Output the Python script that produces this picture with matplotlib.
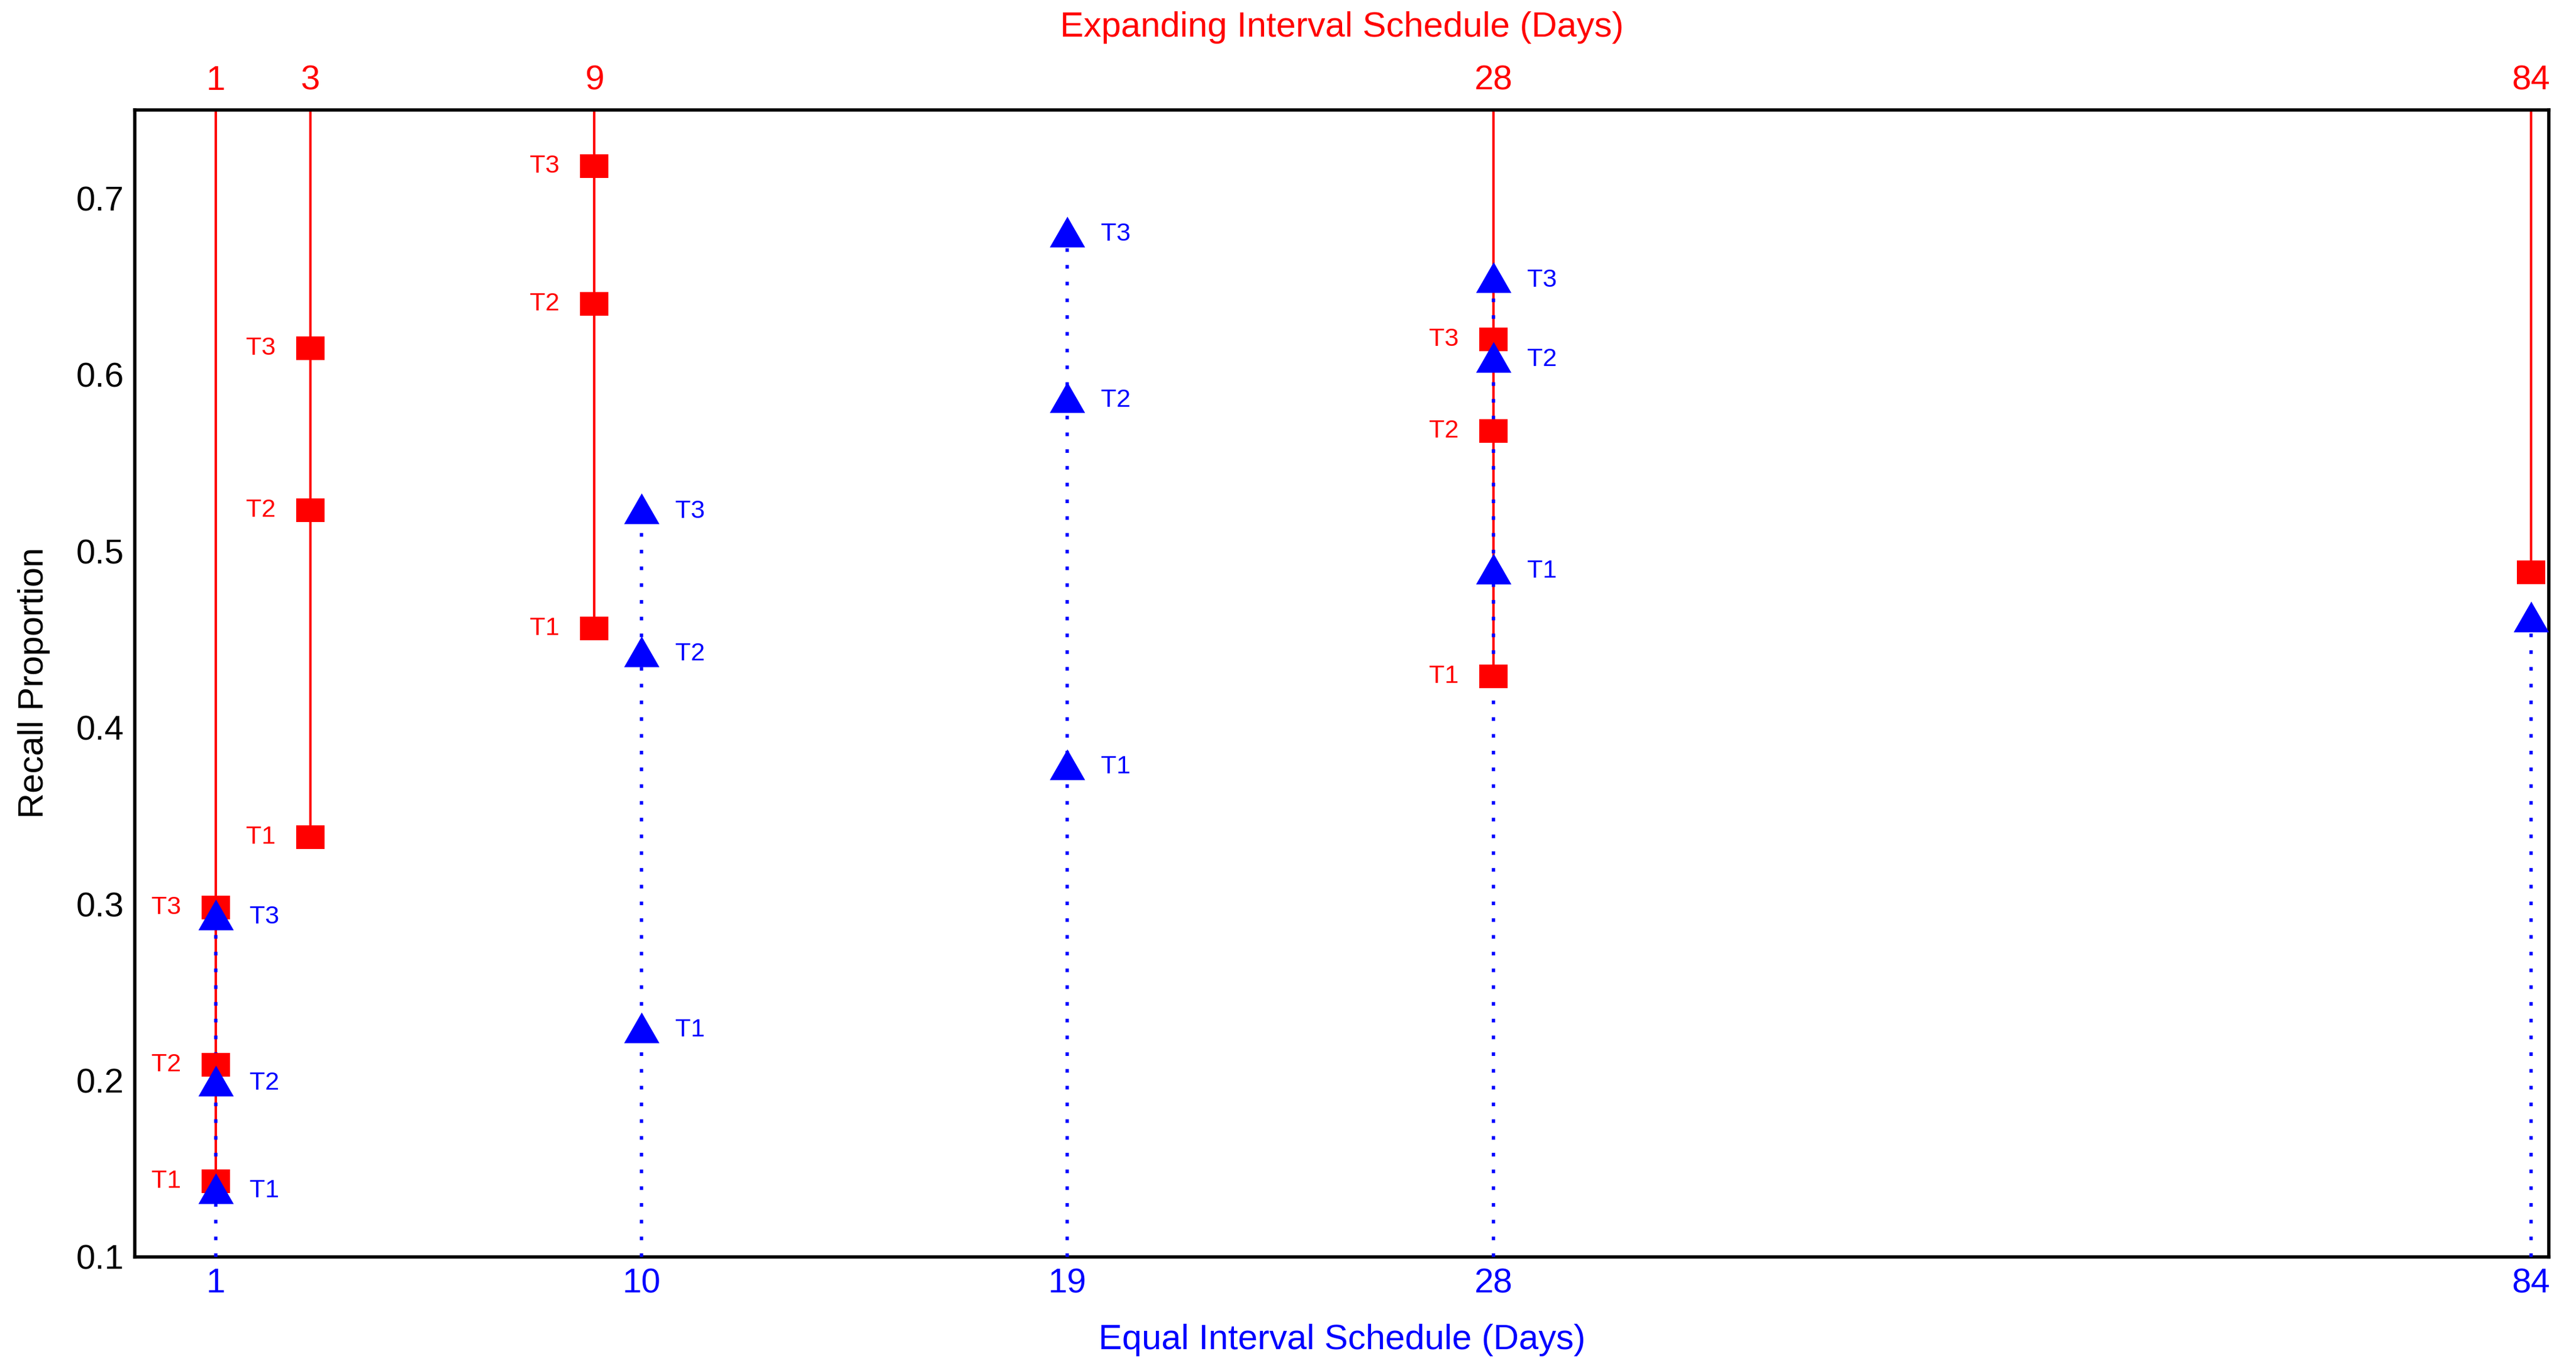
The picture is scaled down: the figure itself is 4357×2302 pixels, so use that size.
import numpy as np
import matplotlib
matplotlib.use("Agg")
import matplotlib.pyplot as plt
from matplotlib import font_manager

# Recall proportions for the three tests (T1-T3) at each retention interval
equal_days = [1, 10, 19, 28]
equal_t1 = [0.139, 0.230, 0.379, 0.490]
equal_t2 = [0.200, 0.443, 0.587, 0.610]
equal_t3 = [0.294, 0.524, 0.681, 0.655]

expanding_days = [1, 3, 9, 28]
expanding_t1 = [0.143, 0.338, 0.456, 0.429]
expanding_t2 = [0.209, 0.523, 0.640, 0.568]
expanding_t3 = [0.298, 0.615, 0.718, 0.620]

# Final delayed test
final_day = 84
equal_final = 0.463
expanding_final = 0.488

test_labels = ["T1", "T2", "T3"]
equal_ticks = [1, 10, 19, 28, 84]
expanding_ticks = [1, 3, 9, 28, 84]
y_ticks = [0.1, 0.2, 0.3, 0.4, 0.5, 0.6, 0.7]

RED = "#ff0000"
BLUE = "#0000ff"
Y_MIN, Y_MAX = 0.1, 0.75

# Day axis: linear up to 28 days, compressed beyond that
BREAK = 28.0
SQUEEZE = 21.93 / 56.0


def forward(x):
    x = np.asarray(x, dtype=float)
    return np.where(x <= BREAK, x, BREAK + (x - BREAK) * SQUEEZE)


def inverse(u):
    u = np.asarray(u, dtype=float)
    return np.where(u <= BREAK, u, BREAK + (u - BREAK) / SQUEEZE)


available = {f.name for f in font_manager.fontManager.ttflist}
MAIN_FONT = ["Liberation Sans", "DejaVu Sans"]
if "Liberation Sans Narrow" in available:
    TAG_FONT, TAG_SIZE = ["Liberation Sans Narrow", "Liberation Sans", "DejaVu Sans"], 36
else:
    TAG_FONT, TAG_SIZE = MAIN_FONT, 31

plt.rcParams["font.family"] = MAIN_FONT

fig = plt.figure(figsize=(43.57, 23.02), dpi=100)
ax = fig.add_axes([0.0523, 0.07646, 0.9371, 0.8428])
ax.set_xscale("function", functions=(forward, inverse))
XLIM = (-0.71, 28 + 22.30 / SQUEEZE)
ax.set_xlim(*XLIM)
ax.set_ylim(Y_MIN, Y_MAX)

square = [(-1, -0.85), (1, -0.85), (1, 0.85), (-1, 0.85), (-1, -0.85)]
triangle = [(-1, -0.87), (1, -0.87), (0, 0.87), (-1, -0.87)]

exp_series = [expanding_t1, expanding_t2, expanding_t3]
eq_series = [equal_t1, equal_t2, equal_t3]

# Expanding schedule: solid red stems hanging from the top frame
exp_x = expanding_days + [final_day]
exp_low = [min(v) for v in zip(*exp_series)] + [expanding_final]
ax.vlines(exp_x, exp_low, Y_MAX, colors=RED, linewidth=3.0, zorder=2)

# Equal schedule: dotted blue stems rising from the bottom frame
eq_x = equal_days + [final_day]
eq_high = [max(v) for v in zip(*eq_series)] + [equal_final]
ax.vlines(eq_x, Y_MIN, eq_high, colors=BLUE, linewidth=4.0,
          linestyles=[(0, (1.1, 4.0))], zorder=3)

for vals in exp_series:
    ax.plot(expanding_days, vals, linestyle="none", marker=square,
            markersize=34, color=RED, markeredgewidth=0, zorder=4,
            clip_on=False)
ax.plot([final_day], [expanding_final], linestyle="none", marker=square,
        markersize=34, color=RED, markeredgewidth=0, zorder=4)

for vals in eq_series:
    ax.plot(equal_days, vals, linestyle="none", marker=triangle,
            markersize=43, color=BLUE, markeredgewidth=0, zorder=5,
            clip_on=False)
ax.plot([final_day], [equal_final], linestyle="none", marker=triangle,
        markersize=43, color=BLUE, markeredgewidth=0, zorder=5)

# Test labels: red on the left of squares, blue on the right of triangles
for label, vals in zip(test_labels, exp_series):
    for d, v in zip(expanding_days, vals):
        ax.annotate(label, (d, v), xytext=(-42, 0), textcoords="offset points",
                    ha="right", va="center", color=RED, fontsize=TAG_SIZE,
                    family=TAG_FONT, zorder=6)
for label, vals in zip(test_labels, eq_series):
    for d, v in zip(equal_days, vals):
        ax.annotate(label, (d, v), xytext=(41, -3), textcoords="offset points",
                    ha="left", va="center", color=BLUE, fontsize=TAG_SIZE,
                    family=TAG_FONT, zorder=6)

# Axes styling
for sp in ax.spines.values():
    sp.set_linewidth(4)
    sp.set_color("black")

ax.set_yticks(y_ticks)
ax.set_yticklabels([f"{t:.1f}" for t in y_ticks])
ax.set_xticks(equal_ticks)
ax.set_xticklabels([str(t) for t in equal_ticks])
ax.xaxis.set_minor_locator(matplotlib.ticker.NullLocator())
ax.tick_params(axis="y", length=0, pad=13, labelsize=42, labelcolor="black")
ax.tick_params(axis="x", length=0, pad=13, labelsize=42, labelcolor=BLUE)

ax_top = ax.twiny()
ax_top.set_xscale("function", functions=(forward, inverse))
ax_top.set_xlim(*XLIM)
ax_top.set_xticks(expanding_ticks)
ax_top.set_xticklabels([str(t) for t in expanding_ticks])
ax_top.xaxis.set_minor_locator(matplotlib.ticker.NullLocator())
ax_top.tick_params(axis="x", length=0, pad=16, labelsize=42, labelcolor=RED)
for sp in ax_top.spines.values():
    sp.set_visible(False)

fig.text(0.521, 1 - 47 / 2302, "Expanding Interval Schedule (Days)",
         ha="center", va="center", color=RED, fontsize=43)
fig.text(0.521, 1 - 2266 / 2302, "Equal Interval Schedule (Days)",
         ha="center", va="center", color=BLUE, fontsize=43)
fig.text(58 / 4357, 1 - 1155 / 2302, "Recall Proportion", rotation=90,
         ha="center", va="center", color="black", fontsize=43)

fig.savefig("out.png", dpi=100, facecolor="white")
